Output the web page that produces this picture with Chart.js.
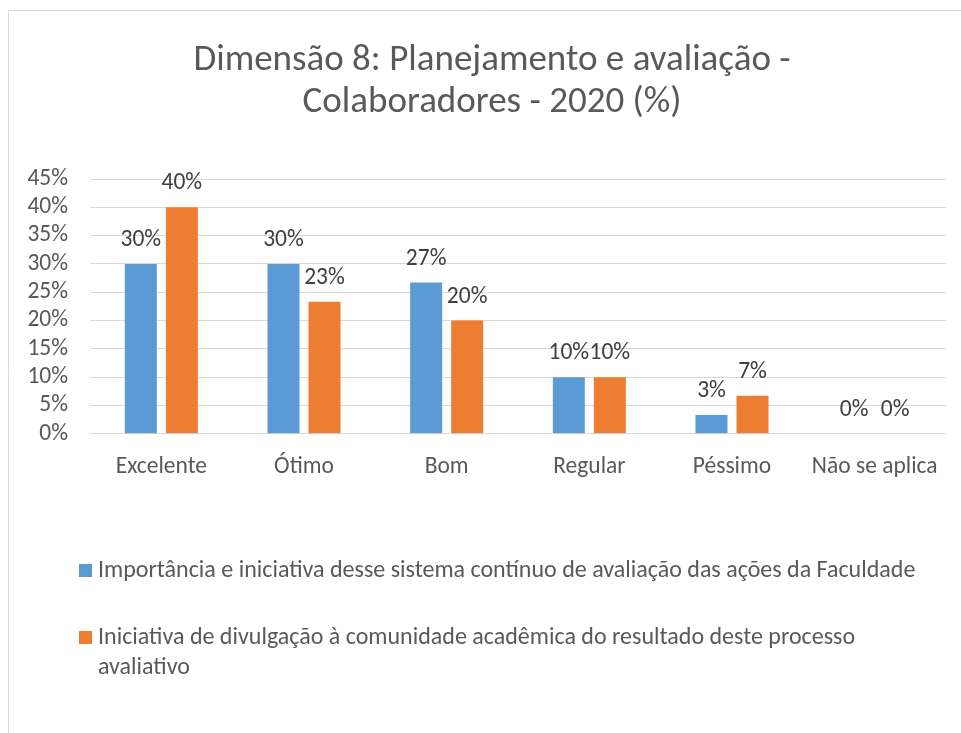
<!DOCTYPE html>
<html lang="pt">
<head>
    <meta charset="UTF-8">
    <title>Dimensão 8: Planejamento e avaliação - Colaboradores - 2020 (%)</title>
    <style>
        html, body { margin: 0; padding: 0; background: #fff; }
        #wrap { width: 961px; height: 733px; position: relative; }
    </style>
</head>
<body>
    <div id="wrap">
        <canvas id="myChart" width="961" height="733"></canvas>
    </div>
    <script src="https://cdn.jsdelivr.net/npm/chart.js@4.4.1/dist/chart.umd.min.js"></script>
    <script>
        var titleLines = ['Dimensão 8: Planejamento e avaliação -', 'Colaboradores - 2020 (%)'];
        var categories = ['Excelente', 'Ótimo', 'Bom', 'Regular', 'Péssimo', 'Não se aplica'];
        var seriesNames = [
            'Importância e iniciativa desse sistema contínuo de avaliação das ações da Faculdade',
            'Iniciativa de divulgação à comunidade acadêmica do resultado deste processo avaliativo'
        ];
        var importancia = [30, 30, 26.7, 10, 3.3, 0];
        var divulgacao = [40, 23.3, 20, 10, 6.7, 0];
        var seriesColors = ['#5b9bd5', '#ed7d31'];
        var yMax = 45;
        var yStep = 5;

        var fontFamily = 'Carlito, Calibri, Lato, sans-serif';
        var textGrey = '#595959';
        var fontSize = 23.5;

        // frame, title, value labels and legend drawn on the canvas
        var excelBits = {
            id: 'excelBits',
            beforeDraw: function (chart) {
                var ctx = chart.ctx;
                ctx.save();
                ctx.strokeStyle = '#d9d9d9';
                ctx.lineWidth = 1;
                ctx.beginPath();
                ctx.moveTo(8.5, chart.height);
                ctx.lineTo(8.5, 10.5);
                ctx.lineTo(chart.width, 10.5);
                ctx.stroke();
                ctx.restore();
            },
            afterDraw: function (chart) {
                var ctx = chart.ctx;
                ctx.save();

                // title
                ctx.fillStyle = textGrey;
                ctx.font = '37px ' + fontFamily;
                ctx.textAlign = 'center';
                ctx.textBaseline = 'middle';
                for (var t = 0; t < titleLines.length; t++) {
                    ctx.fillText(titleLines[t], 492, 61 + t * 42);
                }

                // value labels
                ctx.fillStyle = '#404040';
                ctx.font = fontSize + 'px ' + fontFamily;
                ctx.textBaseline = 'alphabetic';
                chart.data.datasets.forEach(function (ds, di) {
                    var meta = chart.getDatasetMeta(di);
                    meta.data.forEach(function (bar, i) {
                        ctx.fillText(Math.round(ds.data[i]) + '%', bar.x, bar.y - 18);
                    });
                });

                // legend
                ctx.textAlign = 'left';
                ctx.textBaseline = 'middle';
                ctx.font = '24px ' + fontFamily;
                var y = 571;
                var maxW = 835;
                chart.data.datasets.forEach(function (ds, di) {
                    ctx.fillStyle = ds.backgroundColor;
                    ctx.fillRect(79, y - 7, 13, 13);
                    ctx.fillStyle = textGrey;
                    var words = ds.label.split(' ');
                    var line = '';
                    var lines = [];
                    words.forEach(function (w) {
                        var test = line ? line + ' ' + w : w;
                        if (ctx.measureText(test).width > maxW && line) {
                            lines.push(line);
                            line = w;
                        } else {
                            line = test;
                        }
                    });
                    lines.push(line);
                    lines.forEach(function (l, k) {
                        ctx.fillText(l, 98, y + k * 30);
                    });
                    y += 67;
                });
                ctx.restore();
            }
        };

        function createChart() {
            var ctx = document.getElementById('myChart').getContext('2d');
            new Chart(ctx, {
                type: 'bar',
                data: {
                    labels: categories,
                    datasets: [
                        {
                            label: seriesNames[0],
                            data: importancia,
                            backgroundColor: seriesColors[0],
                            categoryPercentage: 0.575,
                            barPercentage: 0.78
                        },
                        {
                            label: seriesNames[1],
                            data: divulgacao,
                            backgroundColor: seriesColors[1],
                            categoryPercentage: 0.575,
                            barPercentage: 0.78
                        }
                    ]
                },
                options: {
                    responsive: false,
                    animation: false,
                    layout: {
                        padding: { top: 179, left: 25, right: 15, bottom: 233 }
                    },
                    plugins: {
                        legend: { display: false },
                        title: { display: false },
                        tooltip: { enabled: false }
                    },
                    scales: {
                        x: {
                            grid: { display: false, drawTicks: false },
                            border: { display: false },
                            ticks: {
                                color: textGrey,
                                font: { family: fontFamily, size: fontSize },
                                padding: 19,
                                maxRotation: 0,
                                autoSkip: false
                            }
                        },
                        y: {
                            min: 0,
                            max: yMax,
                            grid: { color: '#d9d9d9', lineWidth: 1, drawTicks: false },
                            border: { display: false },
                            afterFit: function (scale) { scale.width = 65; },
                            ticks: {
                                stepSize: yStep,
                                autoSkip: false,
                                color: textGrey,
                                font: { family: fontFamily, size: fontSize },
                                padding: 22,
                                callback: function (v) { return v + '%'; }
                            }
                        }
                    }
                },
                plugins: [excelBits]
            });
        }
        createChart();
    </script>
</body>
</html>
